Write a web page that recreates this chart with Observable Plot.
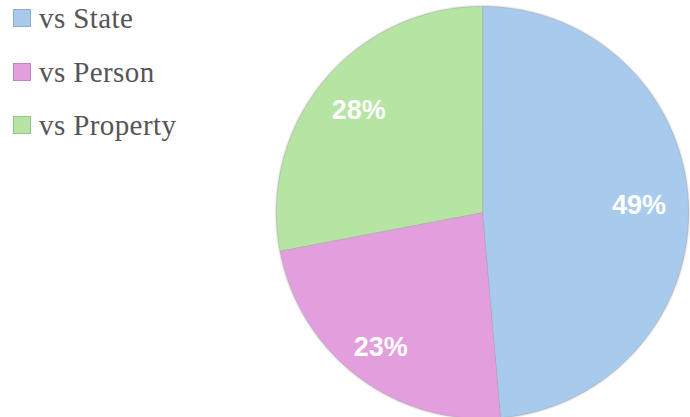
<!DOCTYPE html>
<html>
<head>
<meta charset="utf-8">
<script src="https://cdn.jsdelivr.net/npm/d3@7"></script>
<script src="https://cdn.jsdelivr.net/npm/@observablehq/plot@0.6"></script>
<style>
  html, body { margin: 0; padding: 0; background: #fff; }
  #wrap { position: relative; width: 690px; height: 417px; overflow: hidden; }
  #legend { position: absolute; left: 13px; top: 0; font-family: "Liberation Serif", serif; font-size: 29px; color: #555; }
  .item { position: absolute; left: 0; white-space: nowrap; display: flex; align-items: center; height: 30px; letter-spacing: 0.4px; }
  .sw { width: 18px; height: 18px; border: 1px solid rgba(0,0,0,0.15); margin-right: 8px; box-sizing: border-box; }
  svg g[aria-label="line"] { filter: drop-shadow(0.5px 0.5px 1px rgba(0,0,0,0.35)); }
</style>
</head>
<body>
<div id="wrap"><div id="chart"></div><div id="legend"></div></div>
<script>
const categories = ["vs State", "vs Person", "vs Property"];
const values = [48.6, 23.4, 28.0];
const labels = ["49%", "23%", "28%"];
const colors = ["#a8caec", "#e39edd", "#b6e5a3"];
const labelRadius = [0.76, 0.82, 0.78];

const total = d3.sum(values);
const pts = [];
const labelPts = [];
let start = 0;
categories.forEach((c, i) => {
  const end = start + values[i] / total * 2 * Math.PI;
  const n = 200;
  pts.push({cat: c, x: 0, y: 0});
  for (let k = 0; k <= n; k++) {
    const a = start + (end - start) * k / n;
    pts.push({cat: c, x: Math.sin(a), y: Math.cos(a)});
  }
  const mid = (start + end) / 2;
  labelPts.push({cat: c, label: labels[i], x: labelRadius[i] * Math.sin(mid), y: labelRadius[i] * Math.cos(mid)});
  start = end;
});

const chart = Plot.plot({
  width: 690,
  height: 417,
  margin: 0,
  x: {domain: [-1, 1], range: [276, 688], axis: null},
  y: {domain: [-1, 1], range: [418, 6], axis: null},
  color: {domain: categories, range: colors},
  marks: [
    Plot.line(pts, {x: "x", y: "y", z: "cat", fill: "cat", stroke: "#999", strokeWidth: 0.5, strokeOpacity: 0.6, curve: "linear-closed"}),
    Plot.text(labelPts, {x: "x", y: "y", text: "label", fill: "white", fontSize: 27, fontWeight: "bold", fontFamily: "Liberation Sans, Arial, sans-serif"})
  ]
});
document.getElementById("chart").appendChild(chart);

const legend = document.getElementById("legend");
const tops = [3, 57, 110];
categories.forEach((c, i) => {
  const it = document.createElement("div");
  it.className = "item";
  it.style.top = tops[i] + "px";
  const sw = document.createElement("div");
  sw.className = "sw";
  sw.style.background = colors[i];
  it.appendChild(sw);
  const t = document.createElement("span");
  t.textContent = c;
  it.appendChild(t);
  legend.appendChild(it);
});
</script>
</body>
</html>
